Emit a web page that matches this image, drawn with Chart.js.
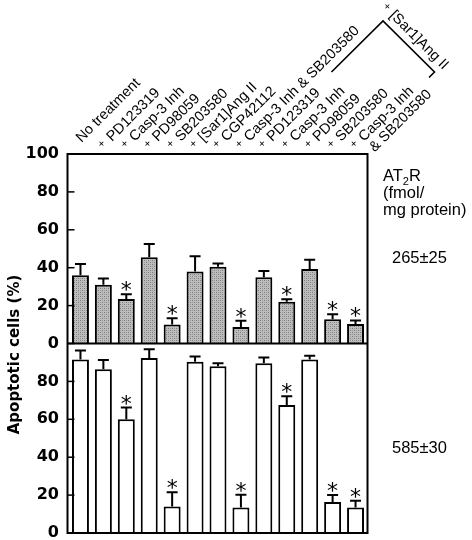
<!DOCTYPE html>
<html lang="en">
<head>
<meta charset="UTF-8">
<title>Apoptotic cells</title>
<script src="https://cdn.jsdelivr.net/npm/chart.js@4.4.0/dist/chart.umd.min.js"></script>
<style>
  body { margin: 0; background: #fff; }
  canvas { display: block; }
</style>
</head>
<body>
<canvas id="myChart" width="472" height="540"></canvas>
<script>
// treatments, left to right (the last five are all given with [Sar1]Ang II)
const treatments = ['No treatment', '+ PD123319', '+ Casp-3 Inh', '+ PD98059', '+ SB203580',
  '+ [Sar1]Ang II', '+ CGP42112', '+ Casp-3 Inh & SB203580',
  '+ PD123319', '+ Casp-3 Inh', '+ PD98059', '+ SB203580', ['+ Casp-3 Inh', '& SB203580']];
const groupLabel = '+ [Sar1]Ang II';

// upper panel (AT2R 265±25), lower panel (AT2R 585±30)
const topMean = [36, 31, 23.5, 45.5, 10, 38, 40.5, 8.7, 35, 22, 39.3, 12.8, 10.3];
const topSD   = [6, 3.3, 2.5, 7, 3.3, 8, 1.7, 3.3, 3.3, 1.3, 4.9, 2.6, 1.9];
const lowMean = [91.5, 86.4, 60, 92.4, 14, 90.4, 88, 13.5, 89.6, 67.5, 91.5, 16.3, 13.5];
const lowSD   = [4.8, 4.9, 6.2, 4.6, 7.5, 2.7, 1.6, 6.7, 3, 4.7, 2.1, 3.8, 3.5];
const signif  = [0, 0, 1, 0, 1, 0, 0, 1, 0, 1, 0, 1, 1];

const topTicks = [0, 20, 40, 60, 80, 100];
const lowTicks = [0, 20, 40, 60, 80];
const at2r = ['265±25', '585±30'];

const SANS = '"Liberation Sans", Arial, sans-serif';
const BOLD = '"DejaVu Sans", sans-serif';

function stipple() {
  const c = document.createElement('canvas');
  c.width = 4; c.height = 4;
  const g = c.getContext('2d');
  g.fillStyle = '#bdbdbd'; g.fillRect(0, 0, 4, 4);
  g.fillStyle = '#7c7c7c'; g.fillRect(0, 0, 1, 1); g.fillRect(2, 2, 1, 1);
  g.fillStyle = '#9a9a9a'; g.fillRect(2, 0, 1, 1); g.fillRect(0, 2, 1, 1);
  return g.createPattern(c, 'repeat');
}

function plusText(ctx, s, x, y, plusDx, plusDy) {
  // small "+" in front of the label, then the name
  ctx.font = '11px ' + SANS;
  ctx.textAlign = 'center';
  ctx.fillText('+', x + plusDx, y + plusDy);
  ctx.font = '14.5px ' + SANS;
  ctx.textAlign = 'left';
  ctx.fillText(s, x, y);
}

const decor = {
  id: 'decor',
  afterDatasetsDraw(chart) {
    const ctx = chart.ctx, a = chart.chartArea;
    const x = chart.scales.x, yT = chart.scales.yTop, yB = chart.scales.yBot;
    const fl = a.left - 1.5, fr = a.right + 0.5;
    ctx.save();
    ctx.strokeStyle = '#000';
    ctx.fillStyle = '#000';

    // error bars and asterisks
    ctx.lineWidth = 2;
    [[yT, topMean, topSD], [yB, lowMean, lowSD]].forEach(([sc, m, sd]) => {
      m.forEach((v, i) => {
        const px = x.getPixelForValue(i);
        const y0 = sc.getPixelForValue(v), y1 = sc.getPixelForValue(v + sd[i]);
        ctx.beginPath();
        ctx.moveTo(px, y0); ctx.lineTo(px, y1);
        ctx.moveTo(px - 5.5, y1); ctx.lineTo(px + 5.5, y1);
        ctx.stroke();
        if (signif[i]) {
          ctx.font = '22px ' + BOLD;
          ctx.textAlign = 'center';
          ctx.textBaseline = 'alphabetic';
          ctx.fillText('*', px, y1 + 3);
        }
      });
    });

    // frame, divider and inward ticks
    ctx.lineWidth = 2;
    ctx.strokeRect(fl, a.top, fr - fl, a.bottom - a.top);
    const mid = yT.getPixelForValue(0);
    ctx.beginPath(); ctx.moveTo(fl, mid); ctx.lineTo(fr, mid); ctx.stroke();
    ctx.lineWidth = 1.5;
    [[yT, topTicks], [yB, lowTicks]].forEach(([sc, tk]) => {
      tk.forEach(v => {
        const py = sc.getPixelForValue(v);
        ctx.beginPath(); ctx.moveTo(fl, py); ctx.lineTo(fl + 7, py); ctx.stroke();
      });
    });

    // rotated treatment labels
    ctx.textBaseline = 'alphabetic';
    treatments.forEach((lab, i) => {
      const lines = Array.isArray(lab) ? lab : [lab];
      const px = x.getPixelForValue(i);
      const hasPlus = lines[0].startsWith('+ ');
      ctx.save();
      if (hasPlus) ctx.translate(px + 8.5, a.top - 12);
      else ctx.translate(px + 1, a.top - 11);
      ctx.rotate(-Math.PI / 4);
      lines.forEach((ln, k) => {
        if (k === 0 && hasPlus) {
          plusText(ctx, ln.slice(2), 0, 0, -8.5, -2.5);
        } else {
          ctx.font = '14.5px ' + SANS;
          ctx.textAlign = 'left';
          ctx.fillText(ln, 0, k * 15);
        }
      });
      ctx.restore();
    });

    // bracket over the last five treatments
    const ax = a.right + 16, ay = a.top - 133;
    ctx.lineWidth = 1.6;
    ctx.beginPath();
    ctx.moveTo(a.right - 35.5, a.top - 82);
    ctx.lineTo(ax, ay);
    ctx.lineTo(a.right + 67.5, a.top - 82);
    ctx.lineTo(a.right + 62, a.top - 76.5);
    ctx.stroke();
    ctx.save();
    ctx.translate(ax + 6, ay - 5);
    ctx.rotate(Math.PI / 4);
    plusText(ctx, groupLabel.slice(2), 0, 0, -8, -2);
    ctx.restore();

    // y title
    ctx.save();
    ctx.font = 'bold 15px ' + BOLD;
    ctx.textAlign = 'center';
    ctx.translate(18.5, mid + 11);
    ctx.rotate(-Math.PI / 2);
    ctx.fillText('Apoptotic cells (%)', 0, 0);
    ctx.restore();

    // AT2R column
    const tx = a.right + 16;
    ctx.textAlign = 'left';
    ctx.font = '16.5px ' + SANS;
    ctx.fillText('AT', tx, a.top + 26.5);
    let w = ctx.measureText('AT').width;
    ctx.font = '11px ' + SANS;
    ctx.fillText('2', tx + w, a.top + 30.5);
    w += ctx.measureText('2').width;
    ctx.font = '16.5px ' + SANS;
    ctx.fillText('R', tx + w, a.top + 26.5);
    ctx.fillText('(fmol/', tx, a.top + 43.5);
    ctx.fillText('mg protein)', tx, a.top + 60.5);
    ctx.fillText(at2r[0], a.right + 25, a.top + 108.5);
    ctx.fillText(at2r[1], a.right + 25, a.top + 298.5);
    ctx.restore();
  }
};

const fit = s => { s.width = 69; s.paddingTop = 0; s.paddingBottom = 0; };

new Chart(document.getElementById('myChart'), {
  type: 'bar',
  data: {
    labels: treatments,
    datasets: [
      { data: topMean, yAxisID: 'yTop', backgroundColor: stipple(), borderColor: '#000', borderWidth: 2,
        grouped: false, barPercentage: 0.74, categoryPercentage: 1 },
      { data: lowMean, yAxisID: 'yBot', backgroundColor: '#fff', borderColor: '#000', borderWidth: 2,
        grouped: false, barPercentage: 0.74, categoryPercentage: 1 }
    ]
  },
  options: {
    responsive: false,
    animation: false,
    layout: { padding: { top: 154, right: 105, bottom: 7, left: 0 } },
    plugins: { legend: { display: false }, tooltip: { enabled: false } },
    scales: {
      x: { display: false },
      yTop: {
        position: 'left', stack: 'panels', stackWeight: 1, weight: 2,
        min: 0, max: 100, afterFit: fit,
        afterBuildTicks: s => { s.ticks = topTicks.map(v => ({ value: v })); },
        grid: { display: false, drawTicks: false }, border: { display: false },
        ticks: { color: '#000', padding: 10, autoSkip: false,
          font: { family: BOLD, size: 16, weight: 'bold' } }
      },
      yBot: {
        position: 'left', stack: 'panels', stackWeight: 1, weight: 1,
        min: 0, max: 100, afterFit: fit,
        afterBuildTicks: s => { s.ticks = lowTicks.map(v => ({ value: v })); },
        grid: { display: false, drawTicks: false }, border: { display: false },
        ticks: { color: '#000', padding: 10, autoSkip: false,
          font: { family: BOLD, size: 16, weight: 'bold' } }
      }
    }
  },
  plugins: [decor]
});
</script>
</body>
</html>
